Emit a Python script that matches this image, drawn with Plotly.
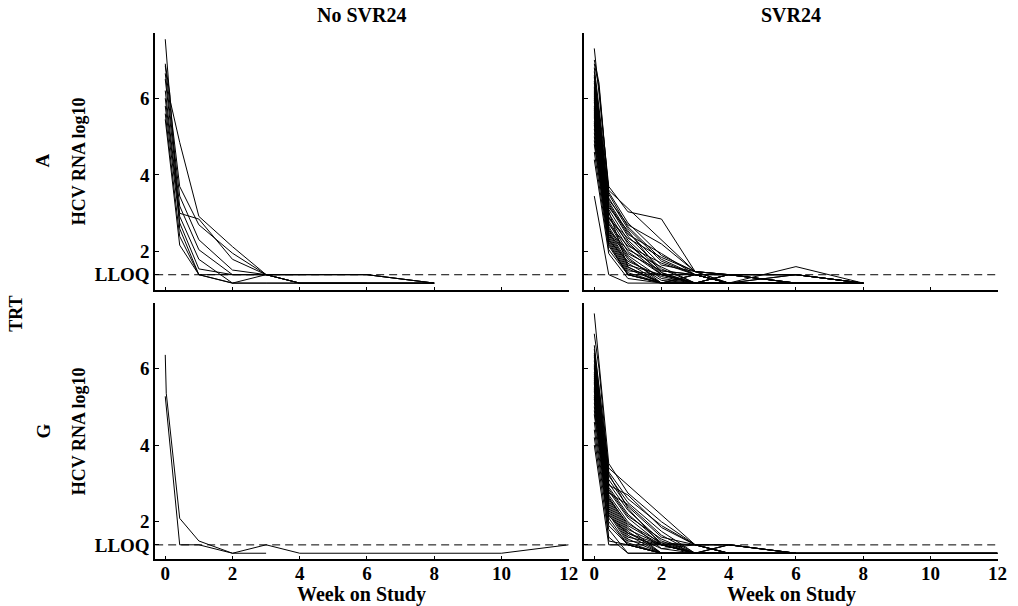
import plotly.graph_objects as go

# ---------------- data ----------------
_ = None
# visit schedule (weeks on study); each subject list is aligned to it
VISITS = [0, 0.03, 0.14, 0.43, 1, 2, 3, 4, 6, 8, 10, 12]
LLOQ = 1.398

# TRT A, No SVR24
A_NO_SVR = [
    [7.54, _, 5.96, 4.85, 2.92, 2.13, 1.40, 1.40, 1.40, 1.18],
    [6.85, _, _, 3.70, 2.70, 1.96, 1.40, 1.18, 1.18, 1.18],
    [6.65, _, _, 3.45, 2.31, 1.52, 1.40, 1.40],
    [6.50, _, _, 3.19, 2.05, 1.40, 1.40, 1.40, 1.40, 1.18],
    [6.20, _, _, 3.00, 2.85, 1.80, 1.40, 1.18, 1.18, 1.18],
    [6.00, _, _, 2.92, 1.80, 1.18, 1.18, 1.18],
    [5.80, _, _, 2.75, 1.55, 1.40, 1.40, 1.18, 1.18, 1.18],
    [5.60, _, _, 2.40, 1.40, 1.40, 1.40, 1.40, 1.40, 1.18],
    [5.45, _, _, 2.17, 1.40, 1.18, 1.18, 1.18, 1.18],
    [6.90, _, 6.10, 2.60, 1.40, 1.18, 1.40, 1.18, 1.18, 1.18],
]

# TRT A, SVR24
A_SVR = [
    [7.30, _, _, 3.70, 3.04, 2.85, 1.48, 1.40, 1.40, 1.18],
    [6.90, _, 6.30, 3.55, 2.75, 1.90, 1.48, 1.18, 1.61, 1.18],
    [6.70, _, _, 3.40, 2.60, 1.75, 1.40, 1.18, 1.40, 1.18],
    [6.55, _, _, 3.30, 2.50, 1.65, 1.48, 1.40, 1.18, 1.18],
    [6.40, _, _, 3.20, 2.40, 1.55, 1.18, 1.40, 1.18, 1.18],
    [6.30, _, _, 3.10, 2.30, 1.50, 1.40, 1.18, 1.18, 1.18],
    [6.20, _, _, 3.00, 2.20, 1.45, 1.18, 1.18, 1.40, 1.18],
    [6.10, _, _, 2.90, 2.10, 1.40, 1.18, 1.40, 1.18, 1.18],
    [6.00, _, _, 2.80, 2.00, 1.40, 1.40, 1.18, 1.18, 1.18],
    [5.90, _, _, 2.75, 1.90, 1.30, 1.18, 1.18, 1.18, 1.18],
    [5.80, _, _, 2.65, 1.85, 1.18, 1.40, 1.40, 1.40, 1.18],
    [5.70, _, _, 2.60, 1.80, 1.25, 1.18, 1.18, 1.18, 1.18],
    [5.60, _, _, 2.55, 1.70, 1.18, 1.18, 1.18, 1.18, 1.18],
    [5.50, _, _, 2.50, 1.65, 1.40, 1.40, 1.40, 1.40, 1.18],
    [5.40, _, _, 2.45, 1.60, 1.18, 1.40, 1.18, 1.18, 1.18],
    [5.30, _, _, 2.40, 1.55, 1.18, 1.18, 1.18, 1.18, 1.18],
    [5.20, _, _, 2.35, 1.50, 1.40, 1.18, 1.18, 1.18, 1.18],
    [5.10, _, _, 2.30, 1.45, 1.18, 1.18, 1.18, 1.18, 1.18],
    [5.00, _, _, 2.25, 1.40, 1.18, 1.18, 1.40, 1.18, 1.18],
    [4.90, _, _, 2.20, 1.40, 1.40, 1.18, 1.18, 1.18, 1.18],
    [4.80, _, _, 2.15, 1.40, 1.18, 1.40, 1.18, 1.18, 1.18],
    [4.60, _, _, 2.05, 1.40, 1.18, 1.18, 1.18, 1.18, 1.18],
    [4.40, _, _, 1.95, 1.30, 1.18, 1.18, 1.18, 1.18, 1.18],
    [3.45, _, _, 1.40, 1.18, 1.18, 1.18, 1.18, 1.18, 1.18],
    [6.80, _, _, 3.60, _, _, 1.48, 1.40, 1.40, 1.18],
    [6.60, _, _, 3.35, 2.70, 2.20, 1.48, 1.18, 1.18, 1.18],
    [6.45, _, _, 3.25, 2.45, 1.95, 1.40, 1.18, 1.18, 1.18],
    [6.15, _, _, 2.85, 2.35, 1.85, 1.48, 1.40, 1.40, 1.18],
    [5.95, _, _, 2.70, 2.15, 1.70, 1.40, 1.18, 1.18, 1.18],
    [5.75, _, _, 2.55, 2.05, 1.60, 1.18, 1.18, 1.18, 1.18],
    [5.55, _, _, 2.45, 1.95, 1.50, 1.40, 1.40, 1.18, 1.18],
    [5.35, _, _, 2.30, 1.75, 1.35, 1.18, 1.18, 1.18, 1.18],
    [6.25, _, 5.60, 3.15, 2.55, 1.45, 1.18, 1.18, 1.18, 1.18],
    [7.00, _, 6.40, 3.50, 2.65, 1.80, 1.40, 1.18, 1.18, 1.18],
    [5.65, _, _, 2.90, 2.25, 1.40, 1.18, 1.40, 1.18, 1.18],
    [6.05, _, _, 3.05, 1.60, 1.18, 1.18, 1.18, 1.18, 1.18],
]

# TRT G, No SVR24
G_NO_SVR = [
    [6.35, 5.35, _, 2.09, 1.50, 1.18, 1.18],
    [5.27, _, _, 1.40, 1.40, 1.18, 1.40, 1.18, 1.18, 1.18, 1.18, 1.40],
]

# TRT G, SVR24
G_SVR = [
    [7.43, _, 6.20, 3.52, 2.75, 2.00, 1.40, 1.40, 1.18, 1.18, 1.18, 1.18],
    [6.60, _, _, 3.30, 2.60, 1.90, 1.40, 1.18, 1.18, 1.18, 1.18, 1.18],
    [6.40, _, _, 3.20, 2.50, 1.75, 1.18, 1.18, 1.18, 1.18, 1.18, 1.18],
    [6.30, _, _, 3.10, 2.40, 1.60, 1.40, 1.40, 1.18],
    [6.20, _, _, 3.00, 2.30, 1.50, 1.18, 1.18],
    [6.10, _, _, 2.90, 2.20, 1.45, 1.18, 1.18, 1.18, 1.18, 1.18, 1.18],
    [6.00, _, _, 2.80, 2.10, 1.40, 1.18, 1.18, 1.18],
    [5.90, _, _, 2.70, 2.00, 1.30, 1.40, 1.18],
    [5.85, _, _, 2.65, 1.90, 1.40, 1.18, 1.18, 1.18, 1.18, 1.18, 1.18],
    [5.80, _, _, 2.60, 1.85, 1.18, 1.18, 1.40, 1.18],
    [5.70, _, _, 2.55, 1.80, 1.40, 1.40, 1.18],
    [5.60, _, _, 2.50, 1.75, 1.18, 1.18, 1.18, 1.18, 1.18, 1.18, 1.18],
    [5.50, _, _, 2.45, 1.70, 1.40, 1.18, 1.18],
    [5.40, _, _, 2.40, 1.65, 1.18, 1.18, 1.18, 1.18],
    [5.30, _, _, 2.35, 1.60, 1.40, 1.18, 1.18],
    [5.20, _, _, 2.30, 1.55, 1.18, 1.18, 1.18, 1.18, 1.18, 1.18, 1.18],
    [5.10, _, _, 2.25, 1.50, 1.40, 1.40, 1.18],
    [5.00, _, _, 2.20, 1.45, 1.18, 1.18, 1.18],
    [4.90, _, _, 2.10, 1.40, 1.18, 1.18, 1.18, 1.18],
    [4.80, _, _, 2.00, 1.40, 1.40, 1.18, 1.18],
    [4.60, _, _, 1.90, 1.40, 1.18, 1.18, 1.18],
    [4.40, _, _, 1.80, 1.18, 1.18, 1.18, 1.18],
    [4.20, _, _, 1.60, 1.18, 1.18, 1.18],
    [4.00, _, _, 1.40, 1.40, 1.18, 1.18, 1.18],
    [6.50, _, _, 3.40, _, _, 1.40, 1.40, 1.18],
    [6.35, _, _, 2.95, 2.70, 1.85, 1.40, 1.18, 1.18],
    [6.05, _, _, 2.75, 2.45, 1.65, 1.18, 1.40, 1.18],
    [5.75, _, _, 2.85, 2.15, 1.55, 1.18, 1.18, 1.18],
    [5.45, _, _, 2.60, 1.95, 1.45, 1.40, 1.18],
    [5.25, _, _, 2.15, 1.70, 1.30, 1.18, 1.18],
    [6.90, _, 6.00, 3.25, 2.35, 1.40, 1.18, 1.18],
    [5.65, _, _, 1.50, 1.40, 1.18, 1.18, 1.40, 1.18],
]

COL_TITLES = ["No SVR24", "SVR24"]
ROW_LABELS = ["A", "G"]
Y_TITLE = "HCV RNA log10"
X_TITLE = "Week on Study"
GROUP_TITLE = "TRT"
X_TICKS = [0, 2, 4, 6, 8, 10, 12]
Y_TICKS = [LLOQ, 2, 4, 6]
Y_TICK_TEXT = ["LLOQ", "2", "4", "6"]

PANELS = [[A_NO_SVR, A_SVR], [G_NO_SVR, G_SVR]]

# ---------------- layout geometry ----------------
W, H = 1018, 606
X_DOM = [[156.7 / W, 574.3 / W], [590.0 / W, 1007.5 / W]]
Y_DOM = [[1 - 290.0 / H, 1 - 32.7 / H], [1 - 559.0 / H, 1 - 302.7 / H]]
Y_RANGES = [[1.0, 7.71], [1.03, 7.71]]
X_RANGE = [-0.3, 12]

FONT = "Liberation Serif, Times New Roman, serif"

fig = go.Figure()
layout = dict(
    width=W, height=H,
    margin=dict(l=0, r=0, t=0, b=0),
    paper_bgcolor="white", plot_bgcolor="white",
    showlegend=False,
    font=dict(family=FONT, color="black", size=17, weight="bold"),
)

k = 0
for r in range(2):
    for c in range(2):
        k += 1
        sx = "" if k == 1 else str(k)
        xa, ya = "x" + sx, "y" + sx
        # LLOQ reference line
        fig.add_trace(go.Scatter(
            x=X_RANGE, y=[LLOQ, LLOQ], xaxis=xa, yaxis=ya, mode="lines",
            line=dict(color="black", width=1, dash="8px,5px"), hoverinfo="skip"))
        for vals in PANELS[r][c]:
            xs = [VISITS[i] for i, v in enumerate(vals) if v is not None]
            ys = [v for v in vals if v is not None]
            fig.add_trace(go.Scatter(
                x=xs, y=ys, xaxis=xa, yaxis=ya, mode="lines",
                line=dict(color="black", width=1)))
        layout["xaxis" + sx] = dict(
            domain=X_DOM[c], range=X_RANGE, anchor=ya,
            showline=True, linecolor="black", linewidth=1.5,
            showgrid=False, zeroline=False,
            ticks="inside", ticklen=3, tickwidth=1, tickcolor="black",
            tickvals=X_TICKS, showticklabels=(r == 1),
            ticklabelstandoff=-4,
            tickfont=dict(family=FONT, size=19, color="black", weight="bold"),
        )
        layout["yaxis" + sx] = dict(
            domain=Y_DOM[r], range=Y_RANGES[r], anchor=xa,
            showline=True, linecolor="black", linewidth=1.5,
            showgrid=False, zeroline=False,
            ticks="inside", ticklen=4, tickwidth=1, tickcolor="black",
            tickvals=Y_TICKS, ticktext=Y_TICK_TEXT, showticklabels=(c == 0),
            tickfont=dict(family=FONT, size=19, color="black", weight="bold"),
        )

def ann(text, px, py, size, angle=0):
    return dict(text=text, x=px / W, y=1 - py / H, xref="paper", yref="paper",
                xanchor="center", yanchor="middle", showarrow=False,
                textangle=angle,
                font=dict(family=FONT, size=size, color="black", weight="bold"))

annotations = []
col_centers = [365.5, 799.0]
row_centers = [161.0, 431.0]
for c in range(2):
    annotations.append(ann(COL_TITLES[c], col_centers[c], 15, 20))
    annotations.append(ann(X_TITLE, col_centers[c], 594, 20))
for r in range(2):
    annotations.append(ann(ROW_LABELS[r], 43, row_centers[r], 19, -90))
    annotations.append(ann(Y_TITLE, 80, row_centers[r], 18, -90))
annotations.append(ann(GROUP_TITLE, 16, 314, 18, -90))
layout["annotations"] = annotations

fig.update_layout(**layout)
fig.write_html("out.html")
